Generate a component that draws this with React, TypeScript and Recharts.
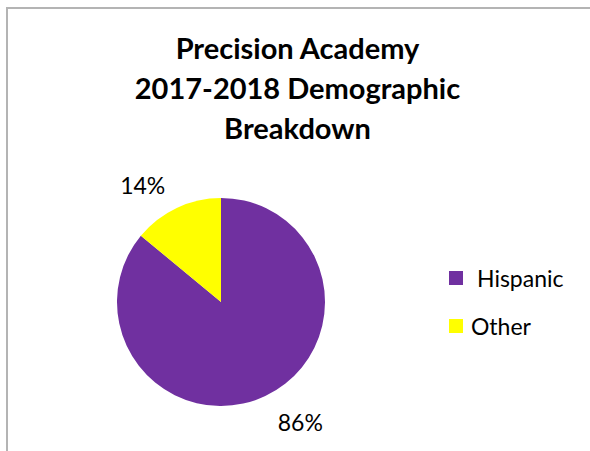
import React from 'react';
import { PieChart, Pie, Cell } from 'recharts';

const categories = ['Hispanic', 'Other'];
const values = [86, 14];
const colors = ['#7030A0', '#FFFF00'];
const titleLines = ['Precision Academy', '2017-2018 Demographic', 'Breakdown'];

const data = categories.map((name, i) => ({ name, value: values[i] }));

const FONT = 'Lato, Carlito, Calibri, sans-serif';
const RAD = Math.PI / 180;

const renderLabel = (props: any) => {
  const { cx, cy, outerRadius, midAngle, percent } = props;
  const ex = cx + outerRadius * Math.cos(-midAngle * RAD);
  const ey = cy + outerRadius * Math.sin(-midAngle * RAD);
  const right = Math.cos(-midAngle * RAD) > 0;
  const down = Math.sin(-midAngle * RAD) > 0;
  const x = ex + (right ? 35 : -34);
  const y = ey + (down ? 26 : -23);
  return (
    <text x={x} y={y} textAnchor="middle" dominantBaseline="central" fill="#000" fontFamily={FONT} fontSize={23}>
      {`${Math.round(percent * 100)}%`}
    </text>
  );
};

export default function App() {
  return (
    <div style={{ position: 'absolute', left: 0, top: 0, width: 590, height: 451, background: '#fff', overflow: 'hidden' }}>
      <div style={{ position: 'absolute', left: 6, top: 7, width: 600, height: 460, borderLeft: '2px solid #b4b4b4', borderTop: '2px solid #b4b4b4' }} />
      <div style={{ position: 'absolute', left: 0, top: 28, width: 595, textAlign: 'center', fontFamily: FONT, fontWeight: 700, fontSize: 29, lineHeight: '40px', color: '#000' }}>
        {titleLines.map((t) => (
          <div key={t}>{t}</div>
        ))}
      </div>
      <PieChart width={590} height={451} margin={{ top: 0, right: 0, bottom: 0, left: 0 }} style={{ position: 'absolute', left: 0, top: 0 }}>
        <Pie
          data={data}
          dataKey="value"
          nameKey="name"
          cx={221}
          cy={302}
          outerRadius={104}
          startAngle={90}
          endAngle={-270}
          stroke="none"
          label={renderLabel}
          labelLine={false}
          isAnimationActive={false}
        >
          {data.map((d, i) => (
            <Cell key={d.name} fill={colors[i]} />
          ))}
        </Pie>
      </PieChart>
      <div style={{ position: 'absolute', left: 449, top: 262, fontFamily: FONT, fontSize: 23, color: '#000' }}>
        {data.map((d, i) => (
          <div key={d.name} style={{ display: 'flex', alignItems: 'center', height: 32, marginBottom: i === 0 ? 16 : 0 }}>
            <span style={{ display: 'inline-block', width: 14, height: 14, background: colors[i], marginRight: i === 0 ? 14 : 8 }} />
            <span>{d.name}</span>
          </div>
        ))}
      </div>
    </div>
  );
}
